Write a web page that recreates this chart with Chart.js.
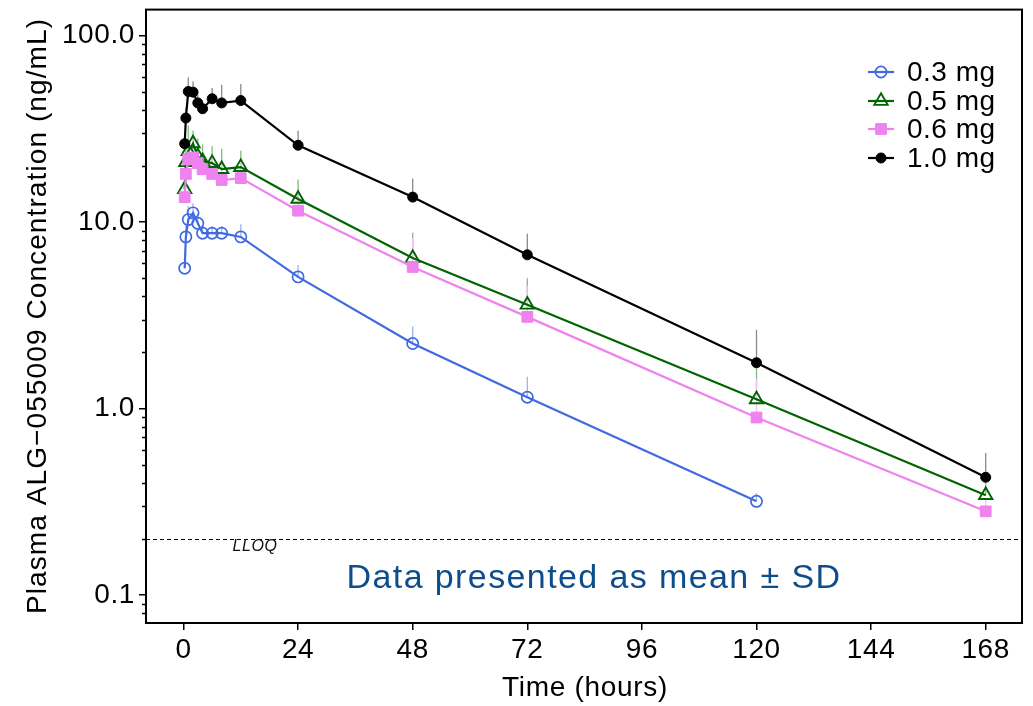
<!DOCTYPE html>
<html><head><meta charset="utf-8">
<script src="https://cdn.jsdelivr.net/npm/chart.js@4.4.1/dist/chart.umd.min.js"></script>
<style>html,body{margin:0;padding:0;background:#fff}#wrap{width:1033px;height:706px;position:relative}</style>
</head><body><div id="wrap"><canvas id="c" width="1033" height="706"></canvas></div>
<script>
// ---- data (hours, ng/mL) ----
const times = [0.25, 0.5, 1, 2, 3, 4, 6, 8, 12, 24, 48, 72, 120, 168];
const seriesLabels = ['0.3 mg', '0.5 mg', '0.6 mg', '1.0 mg'];
const mean03 = [5.65, 8.32, 10.3, 11.2, 9.84, 8.71, 8.71, 8.71, 8.32, 5.08, 2.23, 1.15, 0.318];
const sd03   = [0.55, 1.2, 1.9, 1.4, 1.2, 0.9, 0.8, 0.8, 1.4, 0.81, 0.52, 0.33, 0.034];
const mean05 = [15.0, 20.9, 24.0, 26.4, 22.5, 21.2, 20.7, 19.2, 19.7, 13.3, 6.41, 3.6, 1.12, 0.343];
const sd05   = [3.0, 6.1, 9.0, 4.6, 5.5, 4.8, 4.8, 5.5, 4.5, 3.6, 2.36, 1.4, 0.54, 0.057];
const mean06 = [13.6, 18.1, 21.7, 22.2, 20.7, 19.2, 18.1, 16.8, 17.2, 11.5, 5.74, 3.1, 0.895, 0.281];
const sd06   = [2.4, 3.9, 5.3, 5.8, 5.3, 4.8, 3.9, 3.7, 3.8, 3.0, 2.46, 1.45, 0.555, 0.049];
const mean10 = [26.3, 36.1, 50.1, 49.7, 43.5, 40.5, 45.8, 43.5, 44.8, 25.8, 13.6, 6.67, 1.76, 0.428];
const sd10   = [2.7, 4.9, 9.5, 7.0, 4.5, 3.5, 6.5, 11.0, 10.1, 5.1, 3.5, 1.98, 0.88, 0.149];
const xTickValues = [0, 24, 48, 72, 96, 120, 144, 168];
const yTickValues = [0.1, 1, 10, 100];
const yMinorTicks = [0.08, 0.09, 0.2, 0.3, 0.4, 0.5, 0.6, 0.7, 0.8, 0.9, 2, 3, 4, 5, 6, 7, 8, 9, 20, 30, 40, 50, 60, 70, 80, 90];
const lloqValue = 0.2;
const xTitle = 'Time (hours)';
const yTitle = 'Plasma ALG\u2212055009 Concentration (ng/mL)';
const noteText = 'Data presented as mean \u00B1 SD';

const means = [mean03, mean05, mean06, mean10];
const sds = [sd03, sd05, sd06, sd10];
const FONT = '"Liberation Sans", Arial, sans-serif';

const styles = [
  {color: '#4169E1', bar: '#9DB2EE', pointStyle: 'circle', radius: 5.6, fill: 'rgba(255,255,255,0)', bw: 1.7},
  {color: '#006400', bar: '#7DBE7D', pointStyle: 'triangle', radius: 7.7, fill: 'rgba(255,255,255,0)', bw: 1.9},
  {color: '#EE82EE', bar: '#F5BFF5', pointStyle: 'rect', radius: 7.6, fill: '#EE82EE', bw: 1},
  {color: '#000000', bar: '#8A8A8A', pointStyle: 'circle', radius: 5, fill: '#000000', bw: 1}
];

const datasets = means.map((m, i) => ({
  label: seriesLabels[i],
  data: m.map((v, j) => ({x: times[j], y: v})),
  borderColor: styles[i].color,
  backgroundColor: styles[i].fill,
  pointBackgroundColor: styles[i].fill,
  pointBorderColor: styles[i].color,
  pointBorderWidth: styles[i].bw,
  pointStyle: styles[i].pointStyle,
  pointRadius: styles[i].radius,
  pointHoverRadius: styles[i].radius,
  borderWidth: 2.2,
  tension: 0,
  fill: false,
  order: 4 - i
}));

const decorPlugin = {
  id: 'decor',
  beforeDraw(chart) { chart.ctx.letterSpacing = '0.6px'; },
  beforeDatasetsDraw(chart) {
    const {ctx, chartArea: a, scales: {x, y}} = chart;
    ctx.save();
    const yl = Math.round(y.getPixelForValue(lloqValue)) + 0.5;
    ctx.strokeStyle = '#000'; ctx.lineWidth = 1.2; ctx.setLineDash([4, 3]);
    ctx.beginPath(); ctx.moveTo(a.left, yl); ctx.lineTo(a.right, yl); ctx.stroke();
    ctx.setLineDash([]);
    ctx.lineWidth = 1.3;
    means.forEach((m, i) => {
      ctx.strokeStyle = styles[i].bar;
      m.forEach((v, j) => {
        const px = x.getPixelForValue(times[j]);
        ctx.beginPath();
        ctx.moveTo(px, y.getPixelForValue(v));
        ctx.lineTo(px, y.getPixelForValue(v + sds[i][j]));
        ctx.stroke();
      });
    });
    ctx.restore();
  },
  afterDraw(chart) {
    const {ctx, chartArea: a, scales: {x, y}} = chart;
    ctx.save();
    ctx.strokeStyle = '#000'; ctx.lineWidth = 2;
    ctx.strokeRect(a.left, a.top, a.right - a.left, a.bottom - a.top);
    ctx.lineWidth = 1.5;
    yMinorTicks.forEach(v => {
      const py = Math.round(y.getPixelForValue(v)) + 0.5;
      ctx.beginPath(); ctx.moveTo(a.left - 4, py); ctx.lineTo(a.left, py); ctx.stroke();
    });
    ctx.fillStyle = '#000';
    ctx.letterSpacing = '0.7px';
    ctx.font = '28px ' + FONT; ctx.textAlign = 'center'; ctx.textBaseline = 'middle';
    ctx.fillText(xTitle, (a.left + a.right) / 2 + 1, 688);
    ctx.save();
    ctx.translate(38, 316);
    ctx.rotate(-Math.PI / 2);
    ctx.font = '28px ' + FONT; ctx.letterSpacing = '1.1px';
    ctx.fillText(yTitle, 0, 0);
    ctx.restore();
    ctx.letterSpacing = '0.6px';
    ctx.font = 'italic 16px ' + FONT; ctx.fillStyle = '#111';
    ctx.fillText('LLOQ', 255, 547);
    ctx.letterSpacing = '1.4px';
    ctx.font = '34px ' + FONT; ctx.fillStyle = '#0E4D8C';
    ctx.fillText(noteText, 594, 579);
    ctx.letterSpacing = '0.5px';
    ctx.font = '28px ' + FONT; ctx.textAlign = 'left';
    const rows = [72, 101, 129, 158];
    seriesLabels.forEach((lab, i) => {
      const yy = rows[i];
      const s = styles[i];
      ctx.strokeStyle = s.color; ctx.lineWidth = 2.2;
      ctx.beginPath(); ctx.moveTo(868, yy); ctx.lineTo(894, yy); ctx.stroke();
      ctx.fillStyle = s.fill; ctx.strokeStyle = s.color; ctx.lineWidth = s.bw;
      Chart.helpers.drawPoint(ctx, {pointStyle: s.pointStyle, radius: s.radius, rotation: 0, borderWidth: s.bw}, 881, yy);
      ctx.fillStyle = '#000';
      ctx.fillText(lab, 907, yy + 1);
    });
    ctx.restore();
    ctx.letterSpacing = '0px';
  }
};

new Chart(document.getElementById('c'), {
  type: 'line',
  data: {datasets},
  options: {
    responsive: false,
    animation: false,
    devicePixelRatio: 1,
    layout: {padding: {left: 0, top: 8, right: 11, bottom: 0}},
    plugins: {legend: {display: false}, tooltip: {enabled: false}},
    scales: {
      x: {
        type: 'linear', min: -7.85, max: 175.6,
        border: {display: false},
        grid: {display: true, drawOnChartArea: false, drawTicks: true, tickLength: 7, color: '#000', lineWidth: 1.5},
        ticks: {font: {family: FONT, size: 28}, color: '#000', padding: 3, maxRotation: 0, autoSkip: false},
        afterBuildTicks: s => { s.ticks = xTickValues.map(v => ({value: v})); },
        afterFit: s => { s.height = 83; s.paddingLeft = 0; s.paddingRight = 0; }
      },
      y: {
        type: 'logarithmic', min: 0.0708, max: 137.7,
        border: {display: false},
        grid: {display: true, drawOnChartArea: false, drawTicks: true, tickLength: 7, color: '#000', lineWidth: 1.5},
        ticks: {font: {family: FONT, size: 28}, color: '#000', padding: 4, autoSkip: false,
                callback: v => Number(v).toFixed(1)},
        afterBuildTicks: s => { s.ticks = yTickValues.map(v => ({value: v, major: true})); },
        afterFit: s => { s.width = 146; s.paddingTop = 0; s.paddingBottom = 0; }
      }
    }
  },
  plugins: [decorPlugin]
});
</script></body></html>
